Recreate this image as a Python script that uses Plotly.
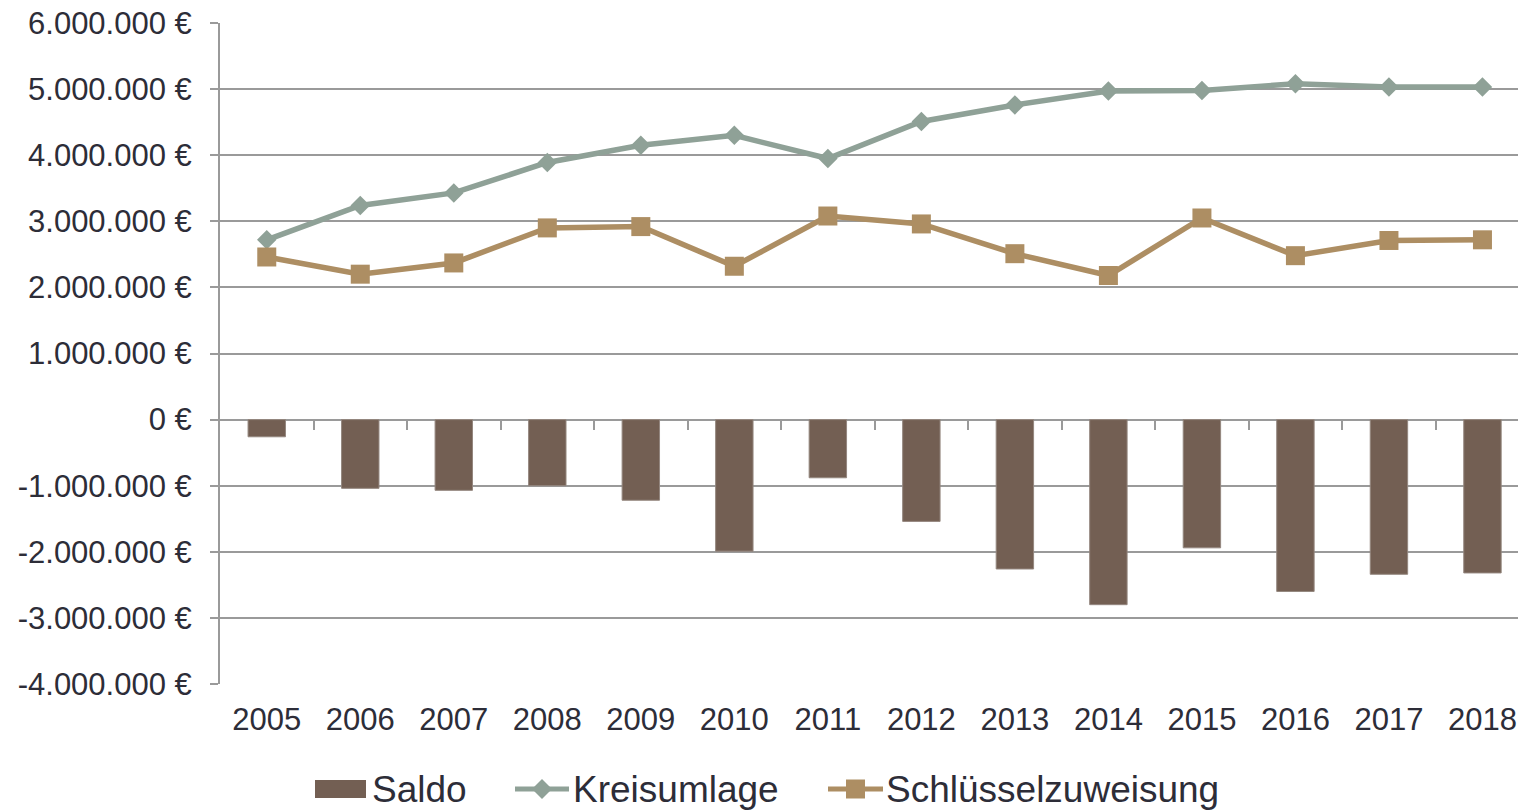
import plotly.graph_objects as go

years = ["2005", "2006", "2007", "2008", "2009", "2010", "2011",
         "2012", "2013", "2014", "2015", "2016", "2017", "2018"]
saldo = [-260000, -1040000, -1070000, -1000000, -1220000, -1990000, -880000,
         -1540000, -2260000, -2800000, -1940000, -2600000, -2340000, -2320000]
kreisumlage = [2720000, 3240000, 3430000, 3890000, 4150000, 4300000, 3950000,
               4510000, 4760000, 4970000, 4980000, 5080000, 5030000, 5030000]
schluessel = [2460000, 2200000, 2370000, 2900000, 2920000, 2320000, 3080000,
              2960000, 2510000, 2180000, 3050000, 2480000, 2710000, 2720000]
y_tickvals = [-4000000, -3000000, -2000000, -1000000, 0, 1000000, 2000000,
              3000000, 4000000, 5000000, 6000000]
y_ticktext = ["-4.000.000 €", "-3.000.000 €", "-2.000.000 €", "-1.000.000 €", "0 €",
              "1.000.000 €", "2.000.000 €", "3.000.000 €", "4.000.000 €",
              "5.000.000 €", "6.000.000 €"]
series_names = ["Saldo", "Kreisumlage", "Schlüsselzuweisung"]

FONT = "Liberation Sans, Arial, sans-serif"
TXT = "#2d2d38"
GRID = "#9a9a9a"
C_SALDO = "#735f53"
C_KREIS = "#8fa197"
C_SCHL = "#ad8e63"

W, H = 1518, 811
ML, MR, MT, MB = 220, 0, 23, 127
PW, PH = W - ML - MR, H - MT - MB


def px(xp):
    return (xp - ML) / PW


def py(yp):
    return (H - MB - yp) / PH


fig = go.Figure()
fig.add_trace(go.Bar(
    x=years, y=saldo, name=series_names[0], width=0.4,
    marker=dict(color=C_SALDO, line=dict(color="#94877f", width=1)),
))
fig.add_trace(go.Scatter(
    x=years, y=kreisumlage, name=series_names[1], mode="lines+markers",
    line=dict(color=C_KREIS, width=5.5),
    marker=dict(symbol="diamond", size=15, color=C_KREIS),
))
fig.add_trace(go.Scatter(
    x=years, y=schluessel, name=series_names[2], mode="lines+markers",
    line=dict(color=C_SCHL, width=5.5),
    marker=dict(symbol="square", size=19, color=C_SCHL),
))
# helper trace so the tick-only axis at zero is drawn
fig.add_trace(go.Scatter(x=[0], y=[0], xaxis="x2", mode="none",
                         showlegend=False, hoverinfo="skip"))

# ---- manual legend (bottom) ----
ly = 789
shapes = []
annotations = []
shapes.append(dict(type="rect", xref="paper", yref="paper",
                   x0=px(315), x1=px(366), y0=py(798), y1=py(780),
                   fillcolor=C_SALDO, line=dict(width=0)))
shapes.append(dict(type="line", xref="paper", yref="paper",
                   x0=px(515), x1=px(569), y0=py(ly), y1=py(ly),
                   line=dict(color=C_KREIS, width=5)))
cx, r = 542, 10
shapes.append(dict(type="path", xref="paper", yref="paper",
                   path=f"M{px(cx - r)},{py(ly)} L{px(cx)},{py(ly - r)} L{px(cx + r)},{py(ly)} L{px(cx)},{py(ly + r)} Z",
                   fillcolor=C_KREIS, line=dict(width=0)))
shapes.append(dict(type="line", xref="paper", yref="paper",
                   x0=px(828), x1=px(883), y0=py(ly), y1=py(ly),
                   line=dict(color=C_SCHL, width=5)))
cx, r = 855.5, 9.5
shapes.append(dict(type="rect", xref="paper", yref="paper",
                   x0=px(cx - r), x1=px(cx + r), y0=py(ly + r), y1=py(ly - r),
                   fillcolor=C_SCHL, line=dict(width=0)))
for name, xl in zip(series_names, [370, 571, 884]):
    annotations.append(dict(text=name, xref="paper", yref="paper",
                            x=px(xl), y=py(ly), xanchor="left", yanchor="middle",
                            showarrow=False, font=dict(size=37, color=TXT, family=FONT)))

n = len(years)
xr = [-0.5, 13.38]
fig.update_layout(
    width=W, height=H,
    margin=dict(l=ML, r=MR, t=MT, b=MB, autoexpand=False),
    paper_bgcolor="white", plot_bgcolor="white",
    font=dict(family=FONT, size=31, color=TXT),
    showlegend=False,
    shapes=shapes, annotations=annotations,
    xaxis=dict(type="category", range=xr, showgrid=False, zeroline=False,
               showline=False, ticks="", ticklabelstandoff=14, automargin=False,
               tickfont=dict(size=31, color=TXT)),
    xaxis2=dict(overlaying="x", anchor="free", position=0.4, range=xr,
                tickvals=[i + 0.5 for i in range(n - 1)], showticklabels=False,
                ticks="outside", ticklen=9, tickwidth=2, tickcolor=GRID,
                showgrid=False, zeroline=False, showline=False, automargin=False),
    yaxis=dict(range=[-4000000, 6000000], tickvals=y_tickvals, ticktext=y_ticktext,
               showgrid=True, gridcolor=GRID, gridwidth=2,
               zeroline=True, zerolinecolor=GRID, zerolinewidth=2,
               showline=True, linecolor=GRID, linewidth=2,
               ticks="outside", ticklen=8, tickwidth=2, tickcolor=GRID,
               ticklabelstandoff=12, automargin=False,
               tickfont=dict(size=31, color=TXT)),
    bargap=0.6,
)
fig.write_html("out.html", config={"displayModeBar": False},
               post_script="document.body.style.margin='0';document.body.style.overflow='hidden';")
